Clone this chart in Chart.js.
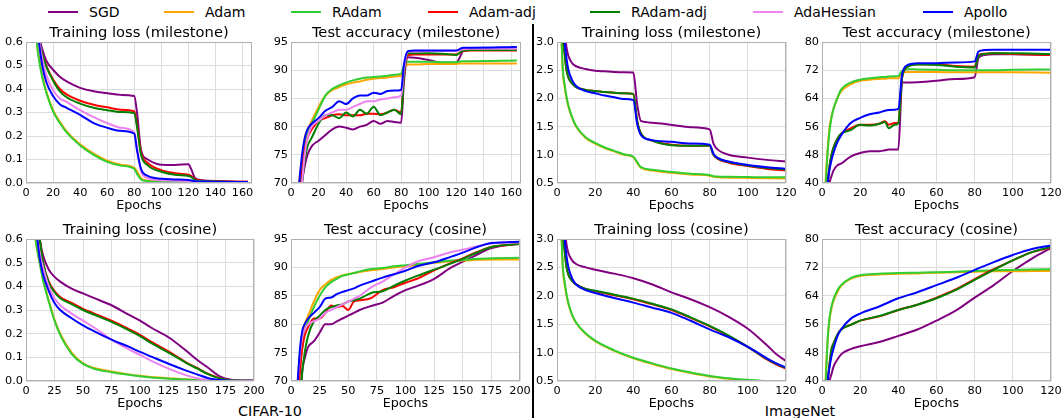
<!DOCTYPE html>
<html>
<head>
<meta charset="utf-8">
<script src="https://cdn.jsdelivr.net/npm/chart.js@4.4.0/dist/chart.umd.min.js"></script>
<style>
body{margin:0;width:1062px;height:418px;position:relative;overflow:hidden;background:#fff;font-family:"DejaVu Sans",sans-serif;color:#000}
.lg{position:absolute;top:3px;font-size:14px;line-height:18px;white-space:nowrap}
.lg i{display:inline-block;width:30px;height:2px;vertical-align:middle;margin-right:11px;position:relative;top:-1px}
.cap{position:absolute;top:402px;font-size:14.4px;line-height:18px;transform:translateX(-50%);white-space:nowrap}
#sep{position:absolute;left:532px;top:24px;width:2px;height:394px;background:#000}
</style>
</head>
<body>
<div id="legend"></div>
<div id="sep"></div>
<div class="cap" style="left:270px">CIFAR-10</div>
<div class="cap" style="left:800px">ImageNet</div>
<script>
// methods, in legend order
const methods = ['SGD', 'Adam', 'RAdam', 'Adam-adj', 'RAdam-adj', 'AdaHessian', 'Apollo'];
const colors = ['#800080', '#FFA500', '#32CD32', '#FF0000', '#008000', '#EE82EE', '#0000FF'];

// CIFAR-10, milestone schedule
const cifarMsLossEpochs = [5, 8, 10, 12, 15, 20, 25, 30, 40, 50, 60, 70, 80, 82, 85, 90, 100, 110, 120, 122, 125, 130, 140, 164];
const cifarMsLoss = [
  [1.2, 0.75, 0.62, 0.57, 0.52, 0.482, 0.452, 0.432, 0.405, 0.39, 0.382, 0.375, 0.37, 0.30, 0.14, 0.10, 0.078, 0.077, 0.08, 0.06, 0.02, 0.012, 0.008, 0.005],
  [0.9, 0.6, 0.52, 0.46, 0.39, 0.31, 0.26, 0.22, 0.165, 0.125, 0.095, 0.078, 0.065, 0.05, 0.02, 0.01, 0.006, 0.005, 0.004, 0.004, 0.003, 0.003, 0.003, 0.003],
  [0.9, 0.6, 0.51, 0.45, 0.385, 0.305, 0.255, 0.215, 0.16, 0.12, 0.09, 0.074, 0.06, 0.04, 0.015, 0.008, 0.005, 0.004, 0.003, 0.003, 0.003, 0.002, 0.002, 0.002],
  [1.1, 0.72, 0.6, 0.55, 0.5, 0.44, 0.4, 0.377, 0.35, 0.333, 0.322, 0.312, 0.305, 0.25, 0.13, 0.085, 0.055, 0.042, 0.035, 0.03, 0.015, 0.01, 0.007, 0.005],
  [1.1, 0.72, 0.6, 0.55, 0.495, 0.435, 0.39, 0.365, 0.338, 0.32, 0.31, 0.302, 0.297, 0.24, 0.12, 0.075, 0.048, 0.035, 0.03, 0.026, 0.012, 0.008, 0.006, 0.004],
  [1.0, 0.7, 0.6, 0.53, 0.46, 0.395, 0.36, 0.345, 0.31, 0.28, 0.255, 0.235, 0.215, 0.15, 0.05, 0.02, 0.012, 0.01, 0.009, 0.008, 0.006, 0.005, 0.004, 0.003],
  [1.0, 0.7, 0.58, 0.5, 0.43, 0.37, 0.335, 0.32, 0.29, 0.255, 0.235, 0.222, 0.21, 0.14, 0.06, 0.03, 0.018, 0.015, 0.013, 0.011, 0.008, 0.006, 0.005, 0.004]
];
const cifarMsAccEpochs = [2, 5, 8, 10, 12, 15, 20, 25, 30, 35, 40, 45, 50, 55, 60, 65, 70, 75, 80, 82, 85, 90, 100, 110, 120, 122, 125, 130, 164];
const cifarMsAcc = [
  [50, 60, 70, 73, 75, 76.5, 77.5, 78.5, 79.5, 80, 79.8, 79.5, 80, 80.3, 81, 80.5, 81, 80.8, 80.7, 88, 92.3, 92.2, 91.8, 91.3, 91.3, 92, 93.4, 93.6, 93.6],
  [55, 68, 74, 78, 79.5, 81, 83.5, 85.5, 86.5, 87, 87.5, 87.8, 88, 88.3, 88.5, 88.6, 88.7, 88.9, 89, 90.3, 91, 91, 91.1, 91.1, 91.1, 91.2, 91.2, 91.2, 91.2],
  [52, 65, 72, 77, 79, 80.5, 83, 85.5, 86.7, 87.3, 87.8, 88.2, 88.5, 88.7, 88.8, 88.9, 89, 89.2, 89.4, 90.8, 91.5, 91.5, 91.5, 91.4, 91.4, 91.5, 91.6, 91.6, 91.7],
  [52, 64, 72, 76, 78, 79.5, 81, 81.5, 82, 82.2, 82, 82, 82, 82.3, 82.3, 82.2, 82.5, 83, 82.5, 89, 92.7, 92.8, 92.8, 92.8, 92.8, 93, 93.4, 93.5, 93.5],
  [50, 62, 70, 74, 76.5, 78, 80.5, 82, 82, 81.5, 82.5, 81.8, 83, 82.3, 83.5, 82, 82.5, 83, 82.2, 89, 93, 93, 93, 92.9, 92.7, 93, 93.5, 93.6, 93.6],
  [50, 62, 70, 75, 78, 80, 81, 82, 82.5, 83, 83, 83.5, 84, 84.5, 84.5, 84.8, 85, 85.2, 85.5, 90, 93.3, 93.3, 93.4, 93.4, 93.4, 93.5, 93.7, 93.8, 93.8],
  [55, 67, 75, 78, 79.5, 80.5, 81.5, 82.8, 83.5, 84.5, 84, 85, 85.5, 85.5, 86, 85.8, 86.3, 86.4, 86.5, 91, 93.4, 93.5, 93.5, 93.5, 93.5, 93.7, 94, 94, 94.1]
];

// ImageNet, milestone schedule (no AdaHessian run)
const imnetMsLossEpochs = [1, 3, 4, 5, 6, 8, 10, 15, 20, 25, 30, 35, 40, 42, 44, 50, 60, 70, 80, 82, 84, 90, 100, 110, 120];
const imnetMsLoss = [
  [6, 3.6, 3.2, 2.9, 2.75, 2.62, 2.57, 2.52, 2.49, 2.48, 2.47, 2.465, 2.46, 1.9, 1.6, 1.57, 1.53, 1.49, 1.45, 1.2, 1.1, 1.0, 0.95, 0.91, 0.88],
  [4.5, 2.5, 2.2, 2.0, 1.85, 1.65, 1.5, 1.3, 1.2, 1.12, 1.06, 1.0, 0.96, 0.86, 0.77, 0.72, 0.68, 0.65, 0.63, 0.61, 0.6, 0.595, 0.59, 0.585, 0.58],
  [4.5, 2.55, 2.25, 2.03, 1.87, 1.66, 1.51, 1.31, 1.21, 1.13, 1.07, 1.01, 0.965, 0.87, 0.78, 0.735, 0.695, 0.665, 0.64, 0.62, 0.615, 0.61, 0.605, 0.6, 0.6],
  [5.5, 3.2, 2.8, 2.5, 2.37, 2.26, 2.2, 2.15, 2.13, 2.115, 2.1, 2.09, 2.08, 1.6, 1.38, 1.25, 1.18, 1.16, 1.16, 1.0, 0.93, 0.86, 0.8, 0.75, 0.72],
  [5.5, 3.2, 2.8, 2.5, 2.37, 2.26, 2.2, 2.15, 2.13, 2.115, 2.1, 2.09, 2.08, 1.6, 1.38, 1.25, 1.17, 1.16, 1.165, 1.0, 0.94, 0.87, 0.81, 0.765, 0.74],
  [],
  [5.5, 3.5, 3.0, 2.7, 2.5, 2.32, 2.22, 2.13, 2.09, 2.05, 2.02, 1.99, 1.97, 1.55, 1.35, 1.26, 1.23, 1.2, 1.18, 1.02, 0.95, 0.88, 0.82, 0.78, 0.75]
];
const imnetMsAccEpochs = [1, 2, 3, 4, 5, 6, 8, 10, 15, 20, 25, 30, 33, 35, 38, 40, 42, 45, 50, 60, 70, 80, 82, 85, 90, 100, 120];
const imnetMsAcc = [
  [20, 28, 35, 40, 42, 43.5, 45, 45.5, 47.5, 48.5, 49, 49, 49.3, 49.5, 49.5, 49.5, 68.5, 68.5, 68.6, 69, 69.5, 70, 75.5, 76.3, 76.5, 76.5, 76.3],
  [30, 42, 50, 56, 59, 61, 64, 66, 68, 69, 69.3, 69.5, 69.6, 69.7, 69.7, 69.7, 71.3, 71.5, 71.5, 71.5, 71.4, 71.4, 71.4, 71.4, 71.4, 71.4, 71.3],
  [28, 40, 49, 55, 58.5, 61, 64, 66.5, 68.5, 69.3, 69.7, 70, 70.1, 70.2, 70.3, 70.4, 71.8, 72.3, 72.2, 72.1, 72, 72, 72, 72, 72, 72.1, 72.2],
  [25, 33, 40, 45, 48, 50, 52.5, 54, 55.5, 56.5, 56.5, 56.8, 57.5, 56.5, 57, 57, 70, 73, 73.7, 73.7, 73.2, 73, 76.3, 76.7, 76.8, 76.6, 76.3],
  [25, 33, 40, 45, 48, 50, 52.5, 54, 55, 56.5, 56.3, 56.8, 57.3, 55.5, 56.5, 57, 70, 73, 73.6, 73.5, 73, 72.8, 76, 76.6, 76.8, 76.8, 76.6],
  [],
  [25, 32, 40, 44, 46.5, 48.5, 51.5, 53.5, 57, 58.5, 59.5, 60, 60.5, 60.7, 60.8, 61, 71, 73.5, 74, 74, 74.2, 74.5, 77.3, 77.7, 77.8, 77.8, 77.8]
];

// CIFAR-10, cosine schedule
const cifarCosLossEpochs = [5, 8, 10, 12, 15, 20, 25, 30, 40, 50, 60, 75, 90, 100, 110, 125, 140, 150, 160, 170, 180, 190, 200];
const cifarCosLoss = [
  [1.2, 0.8, 0.68, 0.6, 0.53, 0.47, 0.44, 0.42, 0.39, 0.37, 0.35, 0.32, 0.28, 0.255, 0.225, 0.185, 0.13, 0.09, 0.055, 0.02, 0.005, 0.002, 0.002],
  [0.9, 0.62, 0.55, 0.5, 0.43, 0.34, 0.26, 0.2, 0.12, 0.075, 0.055, 0.04, 0.028, 0.022, 0.017, 0.012, 0.007, 0.005, 0.003, 0.002, 0.001, 0.001, 0.001],
  [0.9, 0.62, 0.55, 0.5, 0.425, 0.335, 0.255, 0.195, 0.115, 0.072, 0.052, 0.037, 0.026, 0.02, 0.015, 0.01, 0.006, 0.004, 0.002, 0.001, 0.001, 0.001, 0.001],
  [1.1, 0.75, 0.65, 0.6, 0.5, 0.42, 0.38, 0.355, 0.33, 0.305, 0.285, 0.255, 0.22, 0.195, 0.165, 0.125, 0.08, 0.055, 0.03, 0.012, 0.003, 0.001, 0.001],
  [1.1, 0.75, 0.65, 0.6, 0.5, 0.415, 0.375, 0.35, 0.325, 0.3, 0.28, 0.25, 0.215, 0.19, 0.16, 0.12, 0.078, 0.053, 0.028, 0.011, 0.003, 0.001, 0.001],
  [1.0, 0.7, 0.6, 0.54, 0.48, 0.4, 0.35, 0.32, 0.285, 0.255, 0.225, 0.175, 0.135, 0.11, 0.085, 0.052, 0.025, 0.012, 0.005, 0.002, 0.001, 0.001, 0.001],
  [1.0, 0.7, 0.6, 0.52, 0.45, 0.38, 0.33, 0.3, 0.265, 0.235, 0.21, 0.175, 0.145, 0.123, 0.103, 0.073, 0.045, 0.028, 0.012, 0.004, 0.001, 0.001, 0.001]
];
const cifarCosAccEpochs = [2, 5, 8, 10, 12, 15, 20, 25, 30, 35, 40, 45, 50, 55, 60, 70, 80, 90, 100, 110, 125, 140, 150, 160, 175, 200];
const cifarCosAcc = [
  [45, 58, 67, 72, 74, 76, 77, 78.5, 80, 80, 80.5, 81, 81.5, 82, 82.5, 83.2, 83.8, 85, 86, 86.7, 88, 90, 91, 92, 93.4, 94.2],
  [55, 67, 75, 78, 80, 81.5, 84, 86, 87, 87.8, 88.3, 88.6, 88.8, 89, 89.2, 89.5, 89.7, 90, 90.2, 90.4, 90.8, 91.1, 91.2, 91.3, 91.4, 91.4],
  [52, 64, 73, 76, 78.5, 80.5, 83, 85, 86.5, 87.4, 88, 88.5, 88.8, 89, 89.3, 89.7, 89.9, 90.2, 90.4, 90.6, 90.9, 91.2, 91.3, 91.5, 91.6, 91.7],
  [52, 64, 72, 76, 78, 79.5, 81, 81, 82, 83.3, 83, 83.2, 82.5, 84, 84.2, 84.6, 86, 86.5, 87.3, 88, 89.5, 90.8, 91.6, 92.5, 93.6, 94.1],
  [45, 58, 67, 72, 75, 78, 80.5, 81.5, 82.5, 83, 83.3, 83.5, 84, 84.2, 84.5, 85.5, 85.8, 86.8, 87.7, 88.5, 89.6, 90.7, 91.5, 92.4, 93.6, 94.1],
  [55, 67, 75, 78, 79, 80, 80.5, 81, 82, 82.5, 83, 83.5, 84, 84.5, 85, 86.5, 87.5, 88.8, 90, 91, 91.8, 92.7, 93.1, 93.6, 94.2, 94.4],
  [55, 67, 76, 79, 80, 81, 82, 83, 84.5, 84.7, 85.3, 85.7, 86, 86.3, 86.8, 87.5, 88.2, 88.8, 89.4, 90.2, 90.9, 91.9, 92.6, 93.4, 94.3, 94.5]
];

// ImageNet, cosine schedule (no AdaHessian run)
const imnetCosLossEpochs = [1, 3, 4, 5, 6, 8, 10, 15, 20, 30, 40, 50, 60, 70, 80, 90, 100, 110, 115, 120];
const imnetCosLoss = [
  [6, 3.6, 3.2, 2.9, 2.75, 2.62, 2.56, 2.5, 2.46, 2.39, 2.31, 2.2, 2.06, 1.94, 1.8, 1.63, 1.42, 1.13, 0.97, 0.85],
  [4.5, 2.5, 2.2, 2.0, 1.85, 1.65, 1.52, 1.33, 1.2, 1.03, 0.9, 0.8, 0.71, 0.64, 0.58, 0.54, 0.51, 0.49, 0.48, 0.48],
  [4.5, 2.55, 2.25, 2.03, 1.87, 1.66, 1.53, 1.34, 1.21, 1.04, 0.91, 0.81, 0.72, 0.65, 0.59, 0.55, 0.52, 0.5, 0.49, 0.49],
  [5.5, 3.2, 2.8, 2.5, 2.37, 2.26, 2.2, 2.12, 2.08, 2.01, 1.94, 1.85, 1.75, 1.61, 1.46, 1.29, 1.1, 0.88, 0.79, 0.72],
  [5.5, 3.2, 2.8, 2.5, 2.37, 2.26, 2.2, 2.12, 2.09, 2.02, 1.95, 1.86, 1.76, 1.62, 1.47, 1.3, 1.1, 0.89, 0.8, 0.73],
  [],
  [5.5, 3.5, 3.0, 2.7, 2.5, 2.3, 2.2, 2.1, 2.05, 1.96, 1.88, 1.79, 1.7, 1.56, 1.41, 1.27, 1.1, 0.9, 0.81, 0.74]
];
const imnetCosAccEpochs = [1, 2, 3, 4, 5, 6, 8, 10, 15, 20, 30, 40, 50, 60, 70, 80, 90, 100, 110, 120];
const imnetCosAcc = [
  [20, 28, 35, 40, 42, 44, 46, 47.5, 49, 49.8, 51, 52.7, 54.5, 57, 59.8, 63.5, 67, 71, 74.5, 77.5],
  [30, 42, 52, 57.5, 60.5, 62.5, 65, 66.8, 68.8, 69.6, 70, 70.2, 70.3, 70.5, 70.6, 70.8, 70.9, 70.9, 71, 71],
  [28, 40, 52, 58, 61, 63, 65.5, 67, 69, 69.8, 70.2, 70.4, 70.5, 70.6, 70.8, 71, 71.2, 71.3, 71.4, 71.5],
  [25, 33, 40, 45, 49, 50.5, 53, 54.5, 55.8, 57, 58.2, 60, 61.5, 63.5, 65.8, 68.7, 71.5, 74, 76.3, 77.6],
  [25, 33, 40, 45, 49, 50.5, 53, 54.5, 55.8, 57, 58.3, 60, 61.5, 63.3, 65.6, 68.5, 71.3, 74, 76.3, 77.8],
  [],
  [25, 32, 40, 44, 47, 49, 52.5, 54.5, 57.5, 59, 61, 63.3, 65, 67, 69, 71.3, 73.5, 75.5, 77.2, 78.2]
];

// panels: data, axis limits [min, max, step], plot box [left, right, top, bottom]
const panels = [
  {title: 'Training loss (milestone)', ep: cifarMsLossEpochs, val: cifarMsLoss, x: [0, 167, 20], y: [0, 0.6, 0.1], dec: 1, box: [26, 252, 42, 183]},
  {title: 'Test accuracy (milestone)', ep: cifarMsAccEpochs, val: cifarMsAcc, x: [0, 167, 20], y: [70, 95, 5], dec: 0, box: [291, 521, 42, 183]},
  {title: 'Training loss (milestone)', ep: imnetMsLossEpochs, val: imnetMsLoss, x: [0, 120, 20], y: [0.5, 3.0, 0.5], dec: 1, box: [557, 786, 42, 183]},
  {title: 'Test accuracy (milestone)', ep: imnetMsAccEpochs, val: imnetMsAcc, x: [0, 120, 20], y: [40, 80, 8], dec: 0, box: [822, 1051, 42, 183]},
  {title: 'Training loss (cosine)', ep: cifarCosLossEpochs, val: cifarCosLoss, x: [0, 200, 25], y: [0, 0.6, 0.1], dec: 1, box: [26, 254, 239, 381]},
  {title: 'Test accuracy (cosine)', ep: cifarCosAccEpochs, val: cifarCosAcc, x: [0, 200, 25], y: [70, 95, 5], dec: 0, box: [291, 520, 239, 381]},
  {title: 'Training loss (cosine)', ep: imnetCosLossEpochs, val: imnetCosLoss, x: [0, 120, 20], y: [0.5, 3.0, 0.5], dec: 1, box: [557, 786, 239, 381]},
  {title: 'Test accuracy (cosine)', ep: imnetCosAccEpochs, val: imnetCosAcc, x: [0, 120, 20], y: [40, 80, 8], dec: 0, box: [822, 1051, 239, 381]}
];

const FONT = '"DejaVu Sans", sans-serif';
const Y_W = 26, TITLE_H = 18, X_H = 30, R_PAD = 16;

// legend across the top
const legendX = [48, 164, 291, 428, 590, 753, 923];
const legend = document.getElementById('legend');
methods.forEach((m, i) => {
  const d = document.createElement('div');
  d.className = 'lg';
  d.style.left = legendX[i] + 'px';
  d.innerHTML = '<i style="background:' + colors[i] + '"></i>' + m;
  legend.appendChild(d);
});

// gray box round each plot, drawn over the lines like matplotlib spines
const frame = {
  id: 'frame',
  afterDatasetsDraw(chart) {
    const a = chart.chartArea, ctx = chart.ctx;
    ctx.save();
    ctx.strokeStyle = '#b0b0b0';
    ctx.lineWidth = 1;
    ctx.strokeRect(a.left + 0.5, a.top + 0.5, a.right - a.left - 1, a.bottom - a.top - 1);
    ctx.restore();
  }
};

panels.forEach(p => {
  const [L, R, T, B] = p.box;
  const w = Y_W + (R - L) + R_PAD, h = TITLE_H + (B - T) + X_H;
  const cv = document.createElement('canvas');
  cv.width = w; cv.height = h;
  cv.style.cssText = 'position:absolute;left:' + (L - Y_W) + 'px;top:' + (T - TITLE_H) + 'px;width:' + w + 'px;height:' + h + 'px';
  document.body.appendChild(cv);
  const tickFont = {family: FONT, size: 11.3};
  new Chart(cv, {
    type: 'line',
    data: {
      datasets: methods.map((m, i) => ({
        label: m,
        data: p.val[i].map((v, j) => ({x: p.ep[j], y: v})),
        borderColor: colors[i],
        backgroundColor: colors[i],
        borderWidth: 2,
        pointRadius: 0,
        cubicInterpolationMode: 'monotone',
        order: methods.length - i
      }))
    },
    options: {
      responsive: false,
      animation: false,
      events: [],
      layout: {padding: {left: 0, top: 0, right: R_PAD, bottom: 0}},
      plugins: {
        legend: {display: false},
        tooltip: {enabled: false},
        title: {display: true, text: p.title, fullSize: false, padding: 0, color: '#000',
          font: {family: FONT, size: 14.7, weight: 'normal', lineHeight: '18px'}}
      },
      scales: {
        x: {
          type: 'linear', min: p.x[0], max: p.x[1],
          afterFit: s => { s.height = X_H; },
          ticks: {stepSize: p.x[2], includeBounds: false, autoSkip: false, maxRotation: 0, padding: 3, color: '#000', font: tickFont},
          grid: {color: '#dcdcdc', drawTicks: false},
          border: {display: false},
          title: {display: true, text: 'Epochs', color: '#000', padding: 0, font: {family: FONT, size: 12.7}}
        },
        y: {
          min: p.y[0], max: p.y[1],
          afterFit: s => { s.width = Y_W; },
          ticks: {stepSize: p.y[2], includeBounds: false, padding: 3, color: '#000', font: tickFont,
            callback: v => Number(v).toFixed(p.dec)},
          grid: {color: '#dcdcdc', drawTicks: false},
          border: {display: false}
        }
      }
    },
    plugins: [frame]
  });
});
</script>
</body>
</html>
